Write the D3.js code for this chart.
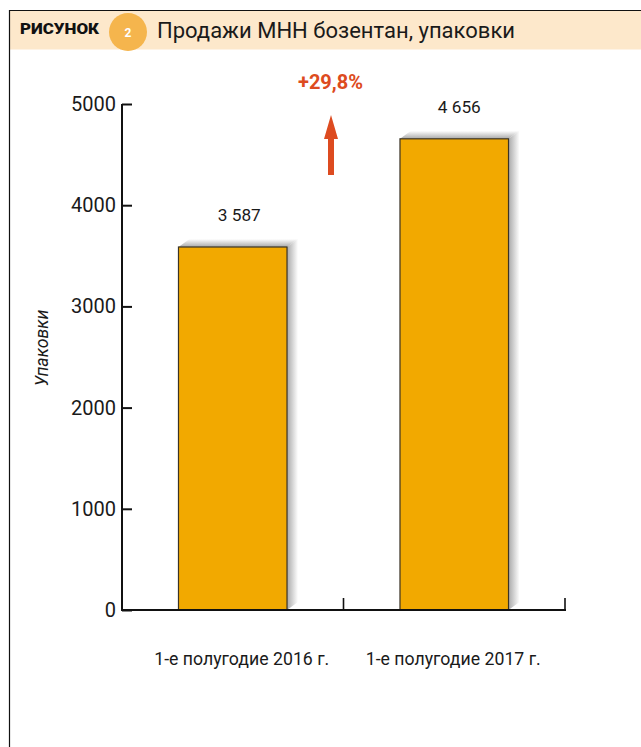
<!DOCTYPE html>
<html><head><meta charset="utf-8">
<script src="https://cdn.jsdelivr.net/npm/d3@7"></script>
<style>html,body{margin:0;padding:0;background:#fff}svg{display:block}text{font-family:Roboto,"Noto Sans",sans-serif;fill:#1a1a1a}</style>
</head><body><svg id="c" width="641" height="747"></svg>
<script>
const categories = ["1-е полугодие 2016 г.", "1-е полугодие 2017 г."];
const values = [3587, 4656];
const valueLabels = ["3 587", "4 656"];
const yTicks = [0, 1000, 2000, 3000, 4000, 5000];
const titleText = "Продажи МНН бозентан, упаковки";
const figureWord = "РИСУНОК";
const figureNumber = "2";
const yTitle = "Упаковки";
const changeLabel = "+29,8%";

const svg = d3.select("#c");
const x = d3.scaleBand().domain(categories).range([122, 565]).paddingInner(0.51).paddingOuter(0.255);
const y = d3.scaleLinear().domain([0, 5000]).range([610, 104]);
const defs = svg.append("defs");
function grad(id, x2, y2, from, to) {
  const g = defs.append("linearGradient").attr("id", id).attr("x1", 0).attr("y1", 0).attr("x2", x2).attr("y2", y2);
  g.append("stop").attr("offset", 0).attr("stop-color", from);
  g.append("stop").attr("offset", 1).attr("stop-color", to);
}
grad("shR", 1, 0, "#a9a9a9", "#ffffff");
grad("shT", 0, 1, "#ffffff", "#a9a9a9");

// frame and header
svg.append("rect").attr("x", 10).attr("y", 11).attr("width", 631).attr("height", 38.5).attr("fill", "#fde8cb");
svg.append("path").attr("d", "M9.5,747V10.5H641").attr("fill", "none").attr("stroke", "#111").attr("stroke-width", 1.2);
svg.append("text").attr("x", 20).attr("y", 34).attr("font-size", 15).attr("font-weight", 900).attr("textLength", 79).attr("lengthAdjust", "spacingAndGlyphs").style("fill", "#111").text(figureWord);
svg.append("circle").attr("cx", 128).attr("cy", 32).attr("r", 19).attr("fill", "#f5b54d");
svg.append("text").attr("x", 128).attr("y", 37).attr("text-anchor", "middle").attr("font-size", 12).attr("font-weight", 700).style("fill", "#fff").text(figureNumber);
svg.append("text").attr("x", 157).attr("y", 37.5).attr("font-size", 22).attr("textLength", 358).attr("lengthAdjust", "spacing").text(titleText);

// bars with bevel shadow
const dx = 11, dy = 8;
const bars = svg.append("g").selectAll("g").data(values).join("g");
bars.append("path").attr("fill", "url(#shR)").attr("d", (d, i) => {
  const r = x(categories[i]) + x.bandwidth(), t = y(d);
  return `M${r},${t}L${r + dx},${t - dy}V${y(0) - dy}L${r},${y(0)}Z`;
});
bars.append("path").attr("fill", "url(#shT)").attr("d", (d, i) => {
  const l = x(categories[i]), r = l + x.bandwidth(), t = y(d);
  return `M${l},${t}L${l + dx},${t - dy}H${r + dx}L${r},${t}Z`;
});
bars.append("rect")
  .attr("x", (d, i) => x(categories[i])).attr("y", d => y(d))
  .attr("width", x.bandwidth()).attr("height", d => y(0) - y(d))
  .attr("fill", "#f2a900").attr("stroke", "#3a3325").attr("stroke-width", 1.2);
svg.append("g").selectAll("text").data(values).join("text")
  .attr("x", (d, i) => x(categories[i]) + x.bandwidth() / 2 + (i ? 5 : 6.5))
  .attr("y", d => y(d) - 26).attr("text-anchor", "middle").attr("font-size", 17).attr("textLength", 43).attr("lengthAdjust", "spacingAndGlyphs")
  .text((d, i) => valueLabels[i]);

// axes
const yAxis = svg.append("g").attr("transform", "translate(122,0)")
  .call(d3.axisLeft(y).tickValues(yTicks).tickFormat(d3.format("d")).tickSize(-10).tickPadding(8));
yAxis.select(".domain").remove();
yAxis.append("line").attr("y1", y(0)).attr("y2", y(5000)).attr("stroke", "#111").attr("stroke-width", 2);
yAxis.selectAll(".tick line").attr("stroke", "#111").attr("stroke-width", 2);
yAxis.selectAll(".tick text").attr("font-size", 20).attr("x", -6).style("fill", "#1a1a1a").style("font-family", "Roboto").style("font-weight", 400);

const bandEdges = [x.range()[0], (x(categories[0]) + x.bandwidth() + x(categories[1])) / 2, x.range()[1]];
const xAxis = svg.append("g");
xAxis.append("line").attr("x1", x.range()[0] - 1).attr("x2", x.range()[1] + 1).attr("y1", y(0)).attr("y2", y(0)).attr("stroke", "#111").attr("stroke-width", 2);
xAxis.selectAll("line.t").data(bandEdges.slice(1)).join("line").attr("class", "t")
  .attr("x1", d => d).attr("x2", d => d).attr("y1", y(0)).attr("y2", y(0) - 12).attr("stroke", "#111").attr("stroke-width", 1.6);
xAxis.selectAll("text").data(categories).join("text")
  .attr("x", (d, i) => x(d) + x.bandwidth() / 2 + (i ? -1 : 9)).attr("y", 665).attr("text-anchor", "middle")
  .attr("font-size", 17.5).attr("textLength", 175).attr("lengthAdjust", "spacingAndGlyphs").text(d => d);

svg.append("text").attr("transform", "translate(48,348) rotate(-90)").attr("text-anchor", "middle")
  .attr("font-size", 19).attr("font-style", "italic").attr("textLength", 77).attr("lengthAdjust", "spacingAndGlyphs").text(yTitle);

// change annotation
svg.append("text").attr("x", 330.5).attr("y", 89).attr("text-anchor", "middle").attr("font-size", 19.5).attr("font-weight", 700).attr("textLength", 65).attr("lengthAdjust", "spacingAndGlyphs").style("fill", "#dd4b20").text(changeLabel);
svg.append("path").attr("fill", "#dd4b20").attr("d", "M328,175V139H324L331,115L338,139H334V175Z");
</script></body></html>
